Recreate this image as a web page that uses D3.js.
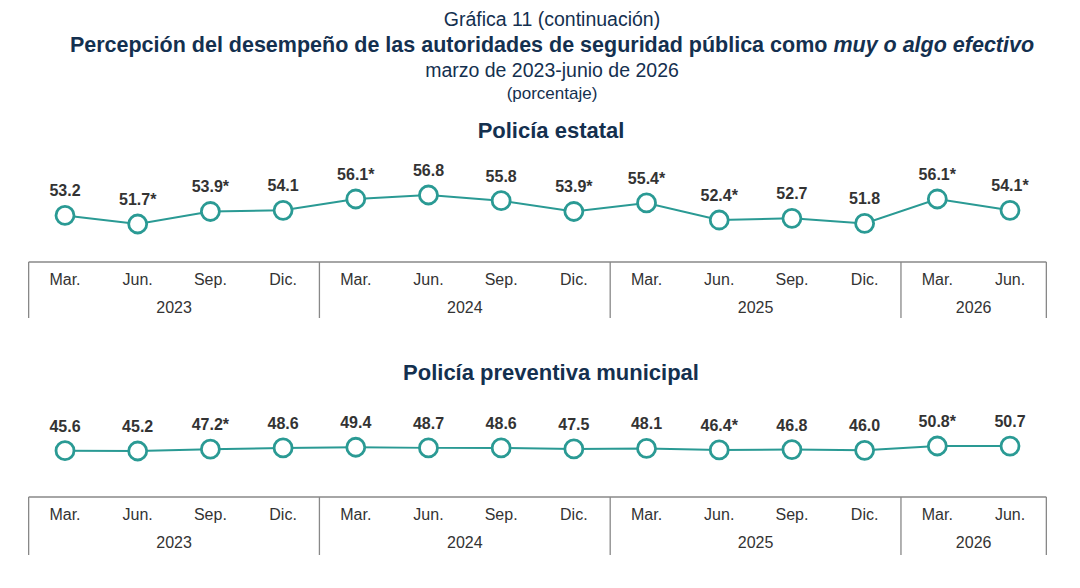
<!DOCTYPE html>
<html><head><meta charset="utf-8">
<script src="https://cdn.jsdelivr.net/npm/d3@7"></script>
<style>body{margin:0;background:#fff;font-family:"Liberation Sans",Arial,sans-serif}</style>
</head><body><svg id="c" width="1080" height="588"></svg>
<script>
const months = ["Mar.","Jun.","Sep.","Dic.","Mar.","Jun.","Sep.","Dic.","Mar.","Jun.","Sep.","Dic.","Mar.","Jun."];
const years = ["2023","2024","2025","2026"];
const yearCounts = [4,4,4,2];
const estatal = [53.2,51.7,53.9,54.1,56.1,56.8,55.8,53.9,55.4,52.4,52.7,51.8,56.1,54.1];
const estatalLabels = ["53.2","51.7*","53.9*","54.1","56.1*","56.8","55.8","53.9*","55.4*","52.4*","52.7","51.8","56.1*","54.1*"];
const municipal = [45.6,45.2,47.2,48.6,49.4,48.7,48.6,47.5,48.1,46.4,46.8,46.0,50.8,50.7];
const municipalLabels = ["45.6","45.2","47.2*","48.6","49.4","48.7","48.6","47.5","48.1","46.4*","46.8","46.0","50.8*","50.7"];

const svg = d3.select("#c");
const navy = "#14304f", teal = "#2a9a94";

// titles
const t = [["Gráfica 11 (continuación)",20,19.5,"normal"],
           [null,46,21.5,"bold"],
           ["marzo de 2023-junio de 2026",71,19.5,"normal"],
           ["(porcentaje)",93,17,"normal"]];
t.forEach(([txt,y,s,w]) => {
  const el = svg.append("text").attr("x",552).attr("y",y+6).attr("text-anchor","middle")
    .attr("font-size",s).attr("font-weight",w).attr("fill",navy);
  if (txt) el.text(txt);
  else {
    el.append("tspan").text("Percepción del desempeño de las autoridades de seguridad pública como ");
    el.append("tspan").attr("font-style","italic").text("muy o algo efectivo");
  }
});

const x = d3.scalePoint().domain(d3.range(months.length)).range([65,1010]);
const step = x.step();

function panel(title, titleY, values, labels, domain, yRange, boxTop, boxBottom) {
  svg.append("text").attr("x",551).attr("y",titleY+7).attr("text-anchor","middle")
    .attr("font-size",22).attr("font-weight","bold").attr("fill",navy).text(title);
  const y = d3.scaleLinear().domain(domain).range(yRange);
  svg.append("path").datum(values)
    .attr("d", d3.line().x((d,i)=>x(i)).y(d=>y(d)))
    .attr("fill","none").attr("stroke",teal).attr("stroke-width",2);
  svg.selectAll(null).data(values).join("circle")
    .attr("cx",(d,i)=>x(i)).attr("cy",d=>y(d)).attr("r",9)
    .attr("fill","#fff").attr("stroke",teal).attr("stroke-width",2.8);
  svg.selectAll(null).data(values).join("text")
    .attr("x",(d,i)=>x(i)).attr("y",d=>y(d)-19).attr("text-anchor","middle")
    .attr("font-size",16).attr("font-weight","bold").attr("fill","#333")
    .text((d,i)=>labels[i]);
  // category frame
  const left = x(0)-step/2, right = x(months.length-1)+step/2;
  const g = svg.append("g").attr("stroke","#888").attr("stroke-width",1.3);
  g.append("line").attr("x1",left).attr("x2",right).attr("y1",boxTop).attr("y2",boxTop);
  let acc = 0;
  const bounds = [0];
  yearCounts.forEach(c => { acc += c; bounds.push(acc); });
  bounds.forEach(b => {
    const bx = x(0) - step/2 + b*step;
    g.append("line").attr("x1",bx).attr("x2",bx).attr("y1",boxTop).attr("y2",boxBottom);
  });
  svg.selectAll(null).data(months).join("text")
    .attr("x",(d,i)=>x(i)).attr("y",boxTop+23).attr("text-anchor","middle")
    .attr("font-size",16).attr("fill","#333").text(d=>d);
  svg.selectAll(null).data(years).join("text")
    .attr("x",(d,i)=>x(0)-step/2 + (bounds[i]+bounds[i+1])/2*step)
    .attr("y",boxTop+51).attr("text-anchor","middle")
    .attr("font-size",16).attr("fill","#333").text(d=>d);
}

panel("Policía estatal",131,estatal,estatalLabels,[51.7,56.8],[224,195],262,318);
panel("Policía preventiva municipal",373,municipal,municipalLabels,[45.2,50.8],[451,446],497,555);
</script></body></html>
